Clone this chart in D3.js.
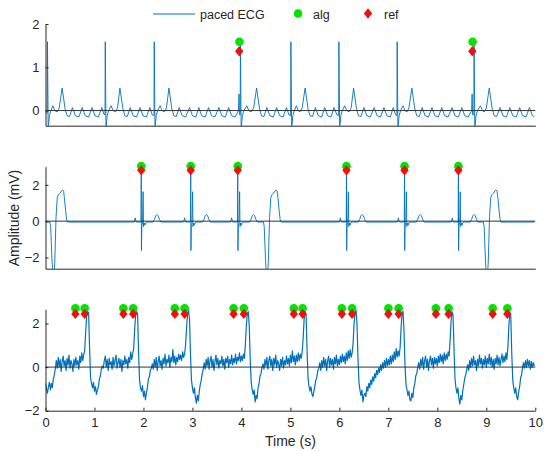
<!DOCTYPE html>
<html>
<head>
<meta charset="utf-8">
<script src="https://cdn.jsdelivr.net/npm/d3@7"></script>
<style>
  body { margin: 0; background: #fff; }
  svg { display: block; }
  text { font-family: Arial, "Liberation Sans", Helvetica, sans-serif; }
</style>
</head>
<body>
<svg id="chart" width="551" height="451"></svg>
<script>
// ---- time axis ----
const timeTicks = [0, 1, 2, 3, 4, 5, 6, 7, 8, 9, 10];

// ---- panel 1: paced ECG with flutter waves (time s, amplitude mV) ----
const flutterEcg = [
  [0,-0.06],[0.035,-0.06],[0.04,1.59],[0.055,-0.42],[0.08,-0.12],[0.11,0.0],[0.15,0.11],[0.19,0.0],[0.24,-0.03],[0.28,0.06],[0.34,0.52],[0.40,0.04],[0.44,-0.12],[0.49,-0.14],
  [0.55,0.07],[0.61,-0.12],[0.68,-0.15],[0.75,0.07],[0.81,-0.12],[0.88,-0.15],[0.95,0.07],[1.01,-0.12],[1.08,-0.15],[1.15,0.07],[1.19,-0.08],[1.215,-0.1],
  [1.22,1.59],[1.235,-0.42],[1.26,-0.12],[1.29,0.0],[1.34,0.11],[1.38,0.0],[1.43,-0.03],[1.47,0.06],[1.52,0.52],[1.58,0.04],[1.62,-0.12],[1.67,-0.14],
  [1.73,0.07],[1.79,-0.12],[1.86,-0.15],[1.93,0.07],[1.99,-0.12],[2.06,-0.15],[2.13,0.07],[2.18,-0.1],[2.215,-0.12],
  [2.22,1.59],[2.235,-0.42],[2.26,-0.12],[2.29,0.0],[2.34,0.11],[2.38,0.0],[2.43,-0.03],[2.47,0.06],[2.52,0.52],[2.58,0.04],[2.62,-0.12],[2.67,-0.14],
  [2.73,0.07],[2.79,-0.12],[2.86,-0.15],[2.94,0.07],[3.0,-0.12],[3.07,-0.15],[3.13,0.07],[3.19,-0.12],[3.26,-0.15],
  [3.33,0.07],[3.39,-0.12],[3.46,-0.15],[3.54,0.07],[3.6,-0.12],[3.67,-0.15],[3.74,0.07],[3.8,-0.12],[3.87,-0.15],
  [3.94,0.0],[3.95,0.38],[3.96,-0.1],[3.975,-0.1],
  [3.98,1.59],[3.995,-0.42],[4.02,-0.12],[4.05,0.0],[4.11,0.11],[4.15,0.0],[4.2,-0.03],[4.25,0.06],[4.31,0.52],[4.37,0.04],[4.41,-0.12],[4.46,-0.14],
  [4.52,0.07],[4.58,-0.12],[4.65,-0.15],[4.72,0.07],[4.78,-0.12],[4.85,-0.15],[4.92,0.07],[4.97,-0.1],[5.005,-0.12],
  [5.01,1.59],[5.025,-0.42],[5.05,-0.12],[5.08,0.0],[5.12,0.11],[5.16,0.0],[5.2,-0.03],[5.24,0.06],[5.30,0.52],[5.36,0.04],[5.40,-0.12],[5.45,-0.14],
  [5.51,0.07],[5.57,-0.12],[5.64,-0.15],[5.70,0.07],[5.76,-0.12],[5.83,-0.15],[5.89,0.07],[5.95,-0.1],[5.985,-0.12],
  [5.99,1.59],[6.005,-0.42],[6.03,-0.12],[6.06,0.0],[6.11,0.11],[6.15,0.0],[6.2,-0.03],[6.24,0.06],[6.29,0.52],[6.35,0.04],[6.39,-0.12],[6.44,-0.14],
  [6.50,0.07],[6.56,-0.12],[6.63,-0.15],[6.71,0.07],[6.77,-0.12],[6.84,-0.15],[6.91,0.07],[6.97,-0.12],[7.04,-0.15],[7.10,0.07],[7.15,-0.1],[7.175,-0.12],
  [7.18,1.59],[7.195,-0.42],[7.22,-0.12],[7.25,0.0],[7.30,0.11],[7.34,0.0],[7.38,-0.03],[7.42,0.06],[7.48,0.52],[7.54,0.04],[7.58,-0.12],[7.63,-0.14],
  [7.69,0.07],[7.75,-0.12],[7.82,-0.15],[7.89,0.07],[7.95,-0.12],[8.02,-0.15],[8.09,0.07],[8.15,-0.12],[8.22,-0.15],
  [8.30,0.07],[8.36,-0.12],[8.43,-0.15],[8.50,0.07],[8.56,-0.12],[8.63,-0.15],
  [8.70,0.0],[8.71,0.38],[8.72,-0.1],[8.745,-0.1],
  [8.75,1.59],[8.765,-0.42],[8.79,-0.12],[8.82,0.0],[8.88,0.11],[8.92,0.0],[8.96,-0.03],[9.0,0.06],[9.06,0.52],[9.12,0.04],[9.16,-0.12],[9.21,-0.14],
  [9.28,0.07],[9.34,-0.12],[9.41,-0.15],[9.48,0.07],[9.54,-0.12],[9.61,-0.15],[9.68,0.07],[9.74,-0.12],[9.81,-0.15],[9.88,0.07],[9.94,-0.12],[9.98,-0.14]
];
const flutterAlg = [[3.96, 1.59], [8.72, 1.59]];
const flutterRef = [[3.955, 1.37], [8.715, 1.37]];
const flutterYTicks = [0, 1, 2];

// ---- panel 2: paced beats with ectopic complexes ----
const pacedEcg = [
  [0,-0.05],[0.09,-0.05],[0.105,-0.3],[0.135,-2.3],[0.145,-2.75],[0.18,-2.75],[0.19,-2.2],[0.215,0.2],[0.24,1.3],[0.26,1.45],[0.30,1.55],[0.33,1.68],[0.35,1.72],[0.37,1.65],[0.385,1.3],[0.41,0.6],[0.43,0.1],[0.45,-0.05],
  [1.805,-0.05],[1.82,0.05],[1.83,0.18],[1.84,0.05],[1.855,-0.05],[1.95,-0.05],[1.955,2.8],[1.959,-1.62],[1.967,-0.25],[1.98,-0.1],[1.993,1.62],[2.001,-0.3],[2.015,-0.1],[2.03,-0.22],[2.045,-0.08],[2.075,-0.05],[2.195,-0.05],[2.225,0.1],[2.25,0.3],[2.275,0.37],[2.30,0.3],[2.325,0.1],[2.355,-0.05],
  [2.815,-0.05],[2.83,0.05],[2.84,0.18],[2.85,0.05],[2.865,-0.05],[2.96,-0.05],[2.965,2.8],[2.969,-1.62],[2.977,-0.25],[2.99,-0.1],[3.003,1.62],[3.011,-0.3],[3.025,-0.1],[3.04,-0.22],[3.055,-0.08],[3.085,-0.05],[3.205,-0.05],[3.235,0.1],[3.26,0.3],[3.285,0.37],[3.31,0.3],[3.335,0.1],[3.365,-0.05],
  [3.775,-0.05],[3.79,0.05],[3.80,0.18],[3.81,0.05],[3.825,-0.05],[3.92,-0.05],[3.925,2.8],[3.929,-1.62],[3.937,-0.25],[3.95,-0.1],[3.963,1.62],[3.971,-0.3],[3.985,-0.1],[4.0,-0.22],[4.015,-0.08],[4.045,-0.05],[4.165,-0.05],[4.195,0.1],[4.22,0.3],[4.245,0.37],[4.27,0.3],[4.295,0.1],[4.325,-0.05],
  [4.45,-0.05],[4.465,-0.3],[4.495,-2.3],[4.505,-2.75],[4.54,-2.75],[4.55,-2.2],[4.575,0.2],[4.60,1.3],[4.62,1.45],[4.66,1.55],[4.69,1.68],[4.71,1.72],[4.73,1.65],[4.745,1.3],[4.77,0.6],[4.79,0.1],[4.81,-0.05],
  [5.995,-0.05],[6.01,0.05],[6.02,0.18],[6.03,0.05],[6.045,-0.05],[6.14,-0.05],[6.145,2.8],[6.149,-1.62],[6.157,-0.25],[6.17,-0.1],[6.183,1.62],[6.191,-0.3],[6.205,-0.1],[6.22,-0.22],[6.235,-0.08],[6.265,-0.05],[6.385,-0.05],[6.415,0.1],[6.44,0.3],[6.465,0.37],[6.49,0.3],[6.515,0.1],[6.545,-0.05],
  [7.18,-0.05],[7.195,0.05],[7.205,0.18],[7.215,0.05],[7.23,-0.05],[7.325,-0.05],[7.33,2.8],[7.334,-1.62],[7.342,-0.25],[7.355,-0.1],[7.368,1.62],[7.376,-0.3],[7.39,-0.1],[7.405,-0.22],[7.42,-0.08],[7.45,-0.05],[7.57,-0.05],[7.60,0.1],[7.625,0.3],[7.65,0.37],[7.675,0.3],[7.70,0.1],[7.73,-0.05],
  [8.28,-0.05],[8.295,0.05],[8.305,0.18],[8.315,0.05],[8.33,-0.05],[8.425,-0.05],[8.43,2.8],[8.434,-1.62],[8.442,-0.25],[8.455,-0.1],[8.468,1.62],[8.476,-0.3],[8.49,-0.1],[8.505,-0.22],[8.52,-0.08],[8.55,-0.05],[8.67,-0.05],[8.70,0.1],[8.725,0.3],[8.75,0.37],[8.775,0.3],[8.80,0.1],[8.83,-0.05],
  [8.94,-0.05],[8.955,-0.3],[8.985,-2.3],[8.995,-2.75],[9.03,-2.75],[9.04,-2.2],[9.065,0.2],[9.09,1.3],[9.11,1.45],[9.15,1.55],[9.18,1.68],[9.20,1.72],[9.22,1.65],[9.235,1.3],[9.26,0.6],[9.28,0.1],[9.30,-0.05],
  [9.98,-0.05]
];
const pacedBeatTimes = [1.955, 2.965, 3.925, 6.145, 7.33, 8.43];
const pacedAlgLevel = 3.03;
const pacedRefLevel = 2.8;
const pacedYTicks = [-2, 0, 2];

// ---- panel 3: noisy recording, sampled every 20 ms ----
const noisyEcg = [
  [0.00,-0.75],[0.02,-1.0],[0.04,-1.2],[0.06,-0.9],[0.08,-0.7],[0.10,-1.05],[0.12,-0.75],[0.14,-0.95],[0.16,-0.55],[0.18,-0.35],
  [0.20,-0.1],[0.22,0.3],[0.24,-0.05],[0.26,0.45],[0.28,0.0],[0.30,0.35],[0.32,-0.2],[0.34,0.25],[0.36,0.5],[0.38,0.05],
  [0.40,0.3],[0.42,-0.15],[0.44,0.4],[0.46,0.1],[0.48,0.55],[0.50,-0.05],[0.52,0.3],[0.54,0.15],[0.56,-0.2],[0.58,0.35],
  [0.60,0.05],[0.62,0.45],[0.64,0.1],[0.66,0.3],[0.68,-0.1],[0.70,0.5],[0.72,0.2],[0.74,0.65],[0.76,0.3],[0.78,0.55],
  [0.80,0.75],[0.82,1.6],[0.84,2.35],[0.86,2.55],[0.88,2.5],[0.90,0.9],[0.92,-0.5],[0.94,-0.75],[0.96,-0.95],[0.98,-0.7],
  [1.00,-1.1],[1.02,-0.9],[1.04,-1.25],[1.06,-1.05],[1.08,-0.9],[1.10,-0.55],[1.12,-0.4],[1.14,-0.1],[1.16,0.05],[1.18,-0.05],
  [1.20,0.3],[1.22,0.5],[1.24,0.0],[1.26,0.35],[1.28,-0.15],[1.30,0.4],[1.32,0.1],[1.34,0.25],[1.36,-0.1],[1.38,0.45],
  [1.40,0.05],[1.42,0.3],[1.44,0.55],[1.46,-0.05],[1.48,0.2],[1.50,0.4],[1.52,0.0],[1.54,0.35],[1.56,-0.2],[1.58,0.3],
  [1.60,0.1],[1.62,0.5],[1.64,0.15],[1.66,0.35],[1.68,-0.05],[1.70,0.45],[1.72,0.2],[1.74,0.7],[1.76,0.35],[1.78,0.6],
  [1.80,0.85],[1.82,1.7],[1.84,2.4],[1.86,2.55],[1.88,2.45],[1.90,0.7],[1.92,-0.6],[1.94,-0.95],[1.96,-1.1],[1.98,-0.85],
  [2.00,-1.35],[2.02,-1.1],[2.04,-1.5],[2.06,-1.2],[2.08,-0.95],[2.10,-0.55],[2.12,-0.45],[2.14,-0.15],[2.16,-0.05],[2.18,0.15],
  [2.20,-0.1],[2.22,0.35],[2.24,0.0],[2.26,0.45],[2.28,-0.15],[2.30,0.25],[2.32,0.5],[2.34,0.05],[2.36,0.3],[2.38,-0.1],
  [2.40,0.4],[2.42,0.15],[2.44,0.6],[2.46,0.05],[2.48,0.35],[2.50,0.2],[2.52,0.55],[2.54,0.0],[2.56,0.45],[2.58,0.25],
  [2.60,0.8],[2.62,0.2],[2.64,0.5],[2.66,0.1],[2.68,0.45],[2.70,0.25],[2.72,0.6],[2.74,0.35],[2.76,0.55],[2.78,0.3],
  [2.80,0.7],[2.82,0.45],[2.84,0.6],[2.86,1.0],[2.88,1.8],[2.90,2.45],[2.92,2.6],[2.94,2.2],[2.96,0.6],[2.98,-0.6],
  [3.00,-0.95],[3.02,-1.2],[3.04,-0.95],[3.06,-1.4],[3.08,-1.65],[3.10,-1.3],[3.12,-1.55],[3.14,-1.1],[3.16,-0.8],[3.18,-0.6],
  [3.20,-0.3],[3.22,-0.1],[3.24,0.2],[3.26,-0.1],[3.28,0.35],[3.30,0.05],[3.32,0.45],[3.34,-0.1],[3.36,0.3],[3.38,0.5],
  [3.40,0.0],[3.42,0.35],[3.44,-0.15],[3.46,0.25],[3.48,0.55],[3.50,0.1],[3.52,0.4],[3.54,-0.05],[3.56,0.3],[3.58,0.15],
  [3.60,0.5],[3.62,0.05],[3.64,0.35],[3.66,-0.1],[3.68,0.4],[3.70,0.2],[3.72,0.5],[3.74,0.0],[3.76,0.35],[3.78,0.15],
  [3.80,0.55],[3.82,0.1],[3.84,0.4],[3.86,0.2],[3.88,0.6],[3.90,0.15],[3.92,0.45],[3.94,0.3],[3.96,0.65],[3.98,0.25],
  [4.00,0.5],[4.02,0.3],[4.04,0.6],[4.06,0.4],[4.08,1.0],[4.10,1.9],[4.12,2.45],[4.14,2.55],[4.16,1.9],[4.18,0.3],
  [4.20,-0.7],[4.22,-1.05],[4.24,-1.25],[4.26,-1.05],[4.28,-1.6],[4.30,-1.3],[4.32,-1.45],[4.34,-0.95],[4.36,-0.75],[4.38,-0.4],
  [4.40,-0.3],[4.42,0.0],[4.44,0.15],[4.46,-0.1],[4.48,0.35],[4.50,0.05],[4.52,0.45],[4.54,-0.1],[4.56,0.3],[4.58,0.5],
  [4.60,0.05],[4.62,0.35],[4.64,-0.15],[4.66,0.4],[4.68,0.1],[4.70,0.55],[4.72,0.0],[4.74,0.3],[4.76,0.15],[4.78,-0.15],
  [4.80,0.35],[4.82,0.05],[4.84,0.45],[4.86,-0.05],[4.88,0.3],[4.90,0.1],[4.92,0.5],[4.94,0.15],[4.96,0.4],[4.98,0.05],
  [5.00,0.55],[5.02,0.2],[5.04,0.75],[5.06,0.25],[5.08,0.5],[5.10,0.1],[5.12,0.55],[5.14,0.25],[5.16,0.65],[5.18,0.3],
  [5.20,0.6],[5.22,0.4],[5.24,0.7],[5.26,1.3],[5.28,2.2],[5.30,2.55],[5.32,2.4],[5.34,0.8],[5.36,-0.5],[5.38,-0.9],
  [5.40,-1.1],[5.42,-0.9],[5.44,-1.25],[5.46,-1.35],[5.48,-1.1],[5.50,-0.85],[5.52,-0.6],[5.54,-0.45],[5.56,-0.15],[5.58,-0.05],
  [5.60,0.2],[5.62,-0.15],[5.64,0.3],[5.66,0.0],[5.68,0.45],[5.70,0.05],[5.72,0.35],[5.74,-0.15],[5.76,0.3],[5.78,0.5],
  [5.80,0.0],[5.82,0.4],[5.84,0.1],[5.86,0.35],[5.88,-0.1],[5.90,0.45],[5.92,0.15],[5.94,0.55],[5.96,0.05],[5.98,0.35],
  [6.00,0.1],[6.02,0.5],[6.04,0.2],[6.06,0.6],[6.08,0.25],[6.10,0.5],[6.12,0.15],[6.14,0.65],[6.16,0.3],[6.18,0.75],
  [6.20,0.4],[6.22,0.8],[6.24,0.45],[6.26,0.65],[6.28,1.1],[6.30,2.0],[6.32,2.5],[6.34,2.6],[6.36,2.0],[6.38,0.4],
  [6.40,-0.7],[6.42,-1.05],[6.44,-1.3],[6.46,-1.05],[6.48,-1.6],[6.50,-1.3],[6.52,-1.2],[6.54,-1.35],[6.56,-0.9],[6.58,-1.1],
  [6.60,-0.75],[6.62,-0.95],[6.64,-0.6],[6.66,-0.8],[6.68,-0.45],[6.70,-0.65],[6.72,-0.3],[6.74,-0.5],[6.76,-0.15],[6.78,-0.35],
  [6.80,-0.05],[6.82,-0.25],[6.84,0.1],[6.86,-0.15],[6.88,0.2],[6.90,-0.05],[6.92,0.3],[6.94,0.0],[6.96,0.4],[6.98,0.05],
  [7.00,0.35],[7.02,0.1],[7.04,0.5],[7.06,0.15],[7.08,0.55],[7.10,0.25],[7.12,0.7],[7.14,0.35],[7.16,0.85],[7.18,0.45],
  [7.20,0.75],[7.22,0.5],[7.24,0.9],[7.26,1.8],[7.28,2.5],[7.30,2.55],[7.32,1.6],[7.34,0.1],[7.36,-0.8],[7.38,-1.05],
  [7.40,-1.3],[7.42,-1.1],[7.44,-1.5],[7.46,-1.55],[7.48,-1.2],[7.50,-1.4],[7.52,-0.95],[7.54,-0.75],[7.56,-0.4],[7.58,-0.3],
  [7.60,0.0],[7.62,0.2],[7.64,-0.1],[7.66,0.35],[7.68,0.05],[7.70,0.45],[7.72,-0.1],[7.74,0.3],[7.76,0.5],[7.78,0.0],
  [7.80,0.35],[7.82,-0.15],[7.84,0.3],[7.86,0.5],[7.88,0.1],[7.90,0.4],[7.92,-0.05],[7.94,0.45],[7.96,0.15],[7.98,0.4],
  [8.00,0.05],[8.02,0.5],[8.04,0.2],[8.06,0.6],[8.08,0.25],[8.10,0.55],[8.12,0.15],[8.14,0.65],[8.16,0.3],[8.18,0.6],
  [8.20,0.35],[8.22,0.7],[8.24,0.5],[8.26,1.2],[8.28,2.1],[8.30,2.55],[8.32,2.4],[8.34,0.9],[8.36,-0.5],[8.38,-0.95],
  [8.40,-1.2],[8.42,-0.95],[8.44,-1.45],[8.46,-1.7],[8.48,-1.3],[8.50,-1.5],[8.52,-1.05],[8.54,-0.8],[8.56,-0.5],[8.58,-0.35],
  [8.60,-0.1],[8.62,0.1],[8.64,-0.15],[8.66,0.3],[8.68,0.0],[8.70,0.4],[8.72,0.05],[8.74,0.5],[8.76,0.1],[8.78,0.3],
  [8.80,-0.15],[8.82,0.35],[8.84,0.05],[8.86,0.55],[8.88,0.15],[8.90,0.4],[8.92,-0.05],[8.94,0.35],[8.96,0.1],[8.98,0.5],
  [9.00,0.0],[9.02,0.4],[9.04,0.15],[9.06,0.6],[9.08,0.1],[9.10,0.45],[9.12,0.0],[9.14,0.35],[9.16,-0.1],[9.18,0.4],
  [9.20,0.15],[9.22,0.55],[9.24,0.1],[9.26,0.45],[9.28,0.05],[9.30,0.35],[9.32,0.6],[9.34,0.2],[9.36,0.5],[9.38,0.25],
  [9.40,0.65],[9.42,0.35],[9.44,0.9],[9.46,1.9],[9.48,2.5],[9.50,2.3],[9.52,0.6],[9.54,-0.6],[9.56,-0.95],[9.58,-1.2],
  [9.60,-0.95],[9.62,-1.35],[9.64,-1.5],[9.66,-1.15],[9.68,-0.9],[9.70,-0.5],[9.72,-0.35],[9.74,0.0],[9.76,0.2],[9.78,-0.05],
  [9.80,0.3],[9.82,0.0],[9.84,0.35],[9.86,0.05],[9.88,0.3],[9.90,-0.1],[9.92,0.25],[9.94,0.0],[9.96,0.2],[9.98,0.05]
];
// detections come in pairs per beat
const noisyBeatTimes = [0.61, 0.80, 1.59, 1.79, 2.64, 2.84, 3.84, 4.05, 5.07, 5.25, 6.05, 6.26, 7.00, 7.21, 7.97, 8.23, 9.13, 9.43];
const noisyAlgLevel = 2.7;
const noisyRefLevel = 2.44;
const noisyYTicks = [-2, 0, 2];

// ---- labels ----
const legendLabels = ["paced ECG", "alg", "ref"];
const yLabel = "Amplitude (mV)";
const xLabel = "Time (s)";

// ---- style ----
const AXIS = "#262626";
const LINE = "#0072BD";
const GREEN = "#00e400";
const RED = "#ee1111";

const svg = d3.select("#chart");
svg.append("rect").attr("width", 551).attr("height", 451).attr("fill", "#fff");

const x = d3.scaleLinear().domain([0, 10]).range([45.5, 535.3]);

const panels = [
  { data: flutterEcg, alg: flutterAlg, ref: flutterRef, domain: [-0.35, 2], top: 24, bottom: 125.7, ticks: flutterYTicks, width: 0.9, xTicks: false },
  { data: pacedEcg, alg: pacedBeatTimes.map(t => [t, pacedAlgLevel]), ref: pacedBeatTimes.map(t => [t, pacedRefLevel]), domain: [-2.62, 3], top: 166.7, bottom: 268.7, ticks: pacedYTicks, width: 0.9, xTicks: false },
  { data: noisyEcg, alg: noisyBeatTimes.map(t => [t, noisyAlgLevel]), ref: noisyBeatTimes.map(t => [t, noisyRefLevel]), domain: [-2, 2.65], top: 309.3, bottom: 410.7, ticks: noisyYTicks, width: 1.2, xTicks: true }
];

const diamond = "M0,-5.2L4.2,0L0,5.2L-4.2,0Z";

panels.forEach((p, k) => {
  const y = d3.scaleLinear().domain(p.domain).range([p.bottom, p.top]);
  const g = svg.append("g");
  const clipId = "plotClip" + k;
  svg.append("clipPath").attr("id", clipId)
    .append("rect")
    .attr("x", x(0)).attr("y", p.top)
    .attr("width", x(10) - x(0)).attr("height", p.bottom - p.top);

  // signal trace
  g.append("path")
    .datum(p.data)
    .attr("clip-path", `url(#${clipId})`)
    .attr("fill", "none")
    .attr("stroke", LINE)
    .attr("stroke-width", p.width)
    .attr("stroke-linejoin", "round")
    .attr("d", d3.line().x(d => x(d[0])).y(d => y(d[1])));

  // zero reference line
  g.append("line")
    .attr("x1", x(0)).attr("x2", x(10))
    .attr("y1", y(0)).attr("y2", y(0))
    .attr("stroke", "#333").attr("stroke-width", 1);

  // detections: algorithm (circles) then reference (diamonds)
  g.selectAll("circle.alg").data(p.alg).join("circle")
    .attr("class", "alg")
    .attr("cx", d => x(d[0])).attr("cy", d => y(d[1]))
    .attr("r", 4.3).attr("fill", GREEN);
  g.selectAll("path.ref").data(p.ref).join("path")
    .attr("class", "ref")
    .attr("transform", d => `translate(${x(d[0])},${y(d[1])})`)
    .attr("d", diamond).attr("fill", RED);

  // y axis
  const ya = g.append("g")
    .attr("transform", `translate(${x(0)},0)`)
    .call(d3.axisLeft(y).tickValues(p.ticks).tickFormat(d3.format("d"))
      .tickSizeInner(-3).tickSizeOuter(0).tickPadding(6));
  // x axis
  const xa = g.append("g")
    .attr("transform", `translate(0,${p.bottom})`)
    .call(d3.axisBottom(x).tickValues(p.xTicks ? timeTicks : []).tickFormat(d3.format("d"))
      .tickSizeInner(-3).tickSizeOuter(0).tickPadding(7));
  [ya, xa].forEach(a => {
    a.select(".domain").attr("stroke", AXIS).attr("stroke-width", 1);
    a.selectAll(".tick line").attr("stroke", AXIS);
    a.selectAll(".tick text").attr("fill", AXIS).style("font-size", "13px")
      .style("font-family", "Arial, 'Liberation Sans', sans-serif");
  });
});

// axis titles
svg.append("text")
  .attr("transform", "translate(19,218) rotate(-90)")
  .attr("text-anchor", "middle")
  .attr("fill", AXIS).style("font-size", "14px")
  .text(yLabel);
svg.append("text")
  .attr("x", (x(0) + x(10)) / 2).attr("y", 446)
  .attr("text-anchor", "middle")
  .attr("fill", AXIS).style("font-size", "14px")
  .text(xLabel);

// legend
const lg = svg.append("g").style("font-size", "12.5px").attr("fill", AXIS);
lg.append("line").attr("x1", 153).attr("x2", 195).attr("y1", 14).attr("y2", 14)
  .attr("stroke", LINE).attr("stroke-width", 1);
lg.append("text").attr("x", 200).attr("y", 18.5).text(legendLabels[0]);
lg.append("circle").attr("cx", 298).attr("cy", 13.5).attr("r", 4.3).attr("fill", GREEN);
lg.append("text").attr("x", 313).attr("y", 18.5).text(legendLabels[1]);
lg.append("path").attr("transform", "translate(368,13.5)").attr("d", diamond).attr("fill", RED);
lg.append("text").attr("x", 384).attr("y", 18.5).text(legendLabels[2]);
</script>
</body>
</html>
